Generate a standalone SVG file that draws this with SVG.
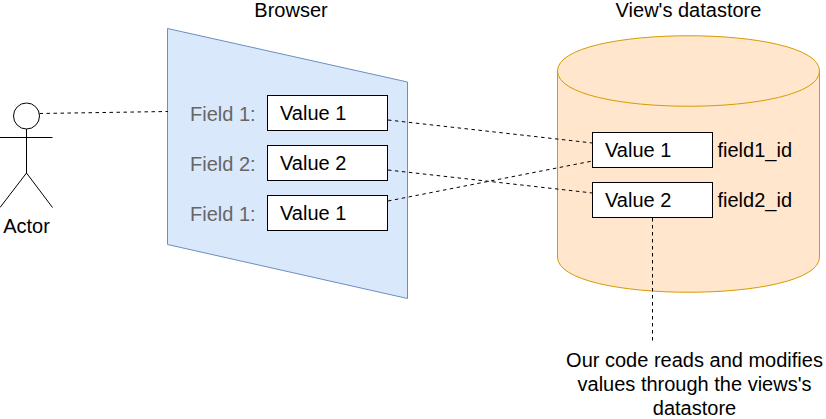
<svg xmlns="http://www.w3.org/2000/svg" width="826" height="419" viewBox="0 0 826 419">
<style>
text{font-family:"Liberation Sans",Arial,sans-serif;font-size:20px;fill:#000}
.m{text-anchor:middle}
.g{fill:#666}
.b{fill:#fff;stroke:#000;stroke-width:1}
.l{fill:none;stroke:#000;stroke-width:1}
.d{fill:none;stroke:#000;stroke-width:1;stroke-dasharray:3.5 3.5}
</style>
<rect width="826" height="419" fill="#fff"/>
<g id="browser">
<polygon points="167.5,28.5 407.5,82 407.5,298.5 167.5,244.5" fill="#dae8fc" stroke="#6c8ebf"/>
<text class="m" x="291" y="17">Browser</text>
</g>
<g id="datastore">
<path d="M557.500 71C557.500 24 819.500 24 819.500 71L819.500 257C819.500 304 557.500 304 557.500 257Z" fill="#ffe6cc" stroke="#d79b00"/>
<path d="M557.500 71C557.500 118 819.500 118 819.500 71" fill="none" stroke="#d79b00"/>
<text class="m" x="688.500" y="17">View's datastore</text>
</g>
<g id="actor">
<circle class="l" cx="26.500" cy="116" r="13"/>
<path class="l" d="M26.500 129V173M0 137.500H52.500M26.500 173L0 207.500M26.500 173L52.500 207.500"/>
<text class="m" x="26.500" y="233">Actor</text>
</g>
<g id="browser-field-1">
<text class="g" x="190" y="121">Field 1:</text>
<rect class="b" x="267.500" y="95.500" width="120" height="35"/>
<text x="280" y="120">Value 1</text>
</g>
<g id="browser-field-2">
<text class="g" x="190" y="171">Field 2:</text>
<rect class="b" x="267.500" y="145.500" width="120" height="35"/>
<text x="280" y="170">Value 2</text>
</g>
<g id="browser-field-3">
<text class="g" x="190" y="221">Field 1:</text>
<rect class="b" x="267.500" y="195.500" width="120" height="35"/>
<text x="280" y="220">Value 1</text>
</g>
<g id="store-value-1">
<rect class="b" x="592.500" y="132.500" width="120" height="35"/>
<text x="605" y="157">Value 1</text>
<text x="717.500" y="157">field1_id</text>
</g>
<g id="store-value-2">
<rect class="b" x="592.500" y="182.500" width="120" height="35"/>
<text x="605" y="207">Value 2</text>
<text x="717.500" y="207">field2_id</text>
</g>
<g id="note">
<text class="m" x="694.500" y="367">Our code reads and modifies</text>
<text class="m" x="694.500" y="391">values through the views's</text>
<text class="m" x="694.500" y="415">datastore</text>
</g>
<g id="connectors">
<path class="d" d="M39.500 113.500L168 111.500"/>
<path class="d" d="M388 120L592.500 143"/>
<path class="d" d="M388 170L592.500 193"/>
<path class="d" d="M388 201L592.500 161"/>
<path class="d" d="M652.500 218V343" stroke-dasharray="3 3"/>
</g>
</svg>
